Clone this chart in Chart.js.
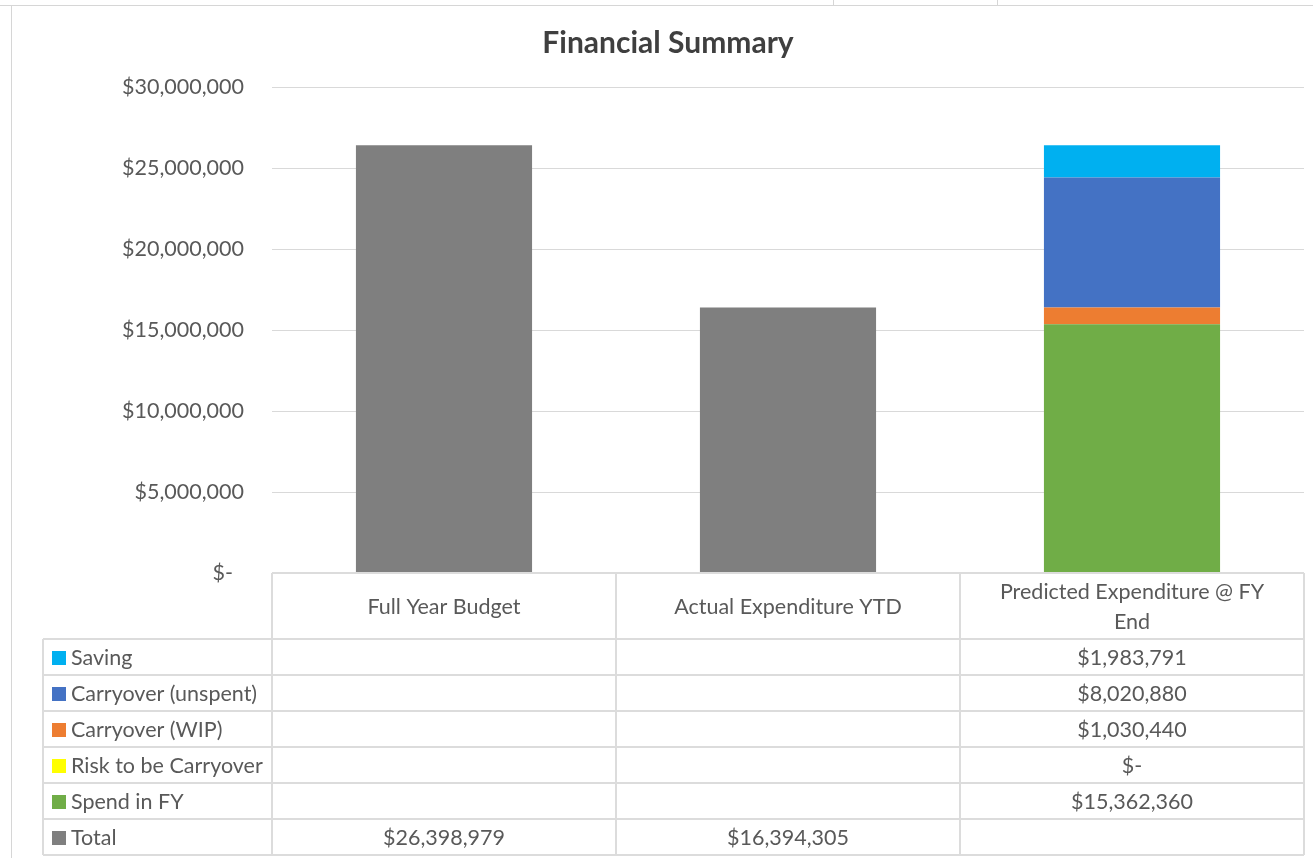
<!DOCTYPE html>
<html>
<head>
<meta charset="utf-8">
<title>Financial Summary</title>
<script src="https://cdn.jsdelivr.net/npm/chart.js@4.4.1/dist/chart.umd.min.js"></script>
<style>
  html, body { margin: 0; padding: 0; background: #ffffff; }
  body { width: 1313px; height: 858px; position: relative; overflow: hidden; }
  .sheet-line { position: absolute; background: #d6d6d6; }
  #chart { position: absolute; left: 0; top: 0; }
</style>
</head>
<body>
<!-- worksheet cell borders around the embedded chart -->
<div class="sheet-line" style="left:0; top:5px; width:1313px; height:1px;"></div>
<div class="sheet-line" style="left:833px; top:0; width:1px; height:5px;"></div>
<div class="sheet-line" style="left:997px; top:0; width:1px; height:5px;"></div>
<div class="sheet-line" style="left:11px; top:5px; width:1px; height:853px;"></div>
<canvas id="chart" width="1313" height="858"></canvas>
<script>
// Categories (multi-line entries are header cells that wrap)
const categories = ['Full Year Budget', 'Actual Expenditure YTD', ['Predicted Expenditure @ FY', 'End']];

// Series values, one per category (null = no value in that column)
const totalValues   = [26398979, 16394305, null];
const spendValues   = [null, null, 15362360];
const riskValues    = [null, null, 0];
const wipValues     = [null, null, 1030440];
const unspentValues = [null, null, 8020880];
const savingValues  = [null, null, 1983791];

// Value axis
const yMin = 0;
const yMax = 30000000;
const yStep = 5000000;

const FONT = 'Lato';
const TEXT = '#595959';
const GRID = '#d9d9d9';
const TABLE_LINE = '#dcdcdc';

function money(v) {
  if (v === null || v === undefined) return '';
  if (v === 0) return '$-';
  return '$' + Math.round(v).toLocaleString('en-US');
}

// Stack order: first dataset sits at the bottom of the column
const datasets = [
  { label: 'Total',               data: totalValues,   backgroundColor: '#7f7f7f' },
  { label: 'Spend in FY',         data: spendValues,   backgroundColor: '#70ad47' },
  { label: 'Risk to be Carryover',data: riskValues,    backgroundColor: '#ffff00' },
  { label: 'Carryover (WIP)',     data: wipValues,     backgroundColor: '#ed7d31' },
  { label: 'Carryover (unspent)', data: unspentValues, backgroundColor: '#4472c4' },
  { label: 'Saving',              data: savingValues,  backgroundColor: '#00b0f0' }
].map(d => Object.assign(d, {
  borderWidth: 0,
  barPercentage: 0.512,
  categoryPercentage: 1.0
}));

// Data table drawn under the plot, columns aligned with the category scale
const dataTablePlugin = {
  id: 'dataTable',
  afterDraw(chart) {
    const ctx = chart.ctx;
    const area = chart.chartArea;
    const x = chart.scales.x;
    const n = categories.length;
    const half = (x.getPixelForTick(1) - x.getPixelForTick(0)) / 2;
    const edges = [];
    for (let i = 0; i < n; i++) edges.push(x.getPixelForTick(i) - half);
    edges.push(x.getPixelForTick(n - 1) + half);

    const headerTop = area.bottom;
    const headerH = 66;
    const rowH = 36;
    const labelLeft = 43;
    const rows = datasets.slice().reverse();
    const tableBottom = headerTop + headerH + rows.length * rowH;

    ctx.save();
    ctx.strokeStyle = TABLE_LINE;
    ctx.lineWidth = 2;
    ctx.beginPath();
    // header top edge
    ctx.moveTo(edges[0], headerTop); ctx.lineTo(edges[n], headerTop);
    // row separators
    for (let r = 0; r <= rows.length; r++) {
      const yy = headerTop + headerH + r * rowH;
      ctx.moveTo(labelLeft, yy); ctx.lineTo(edges[n], yy);
    }
    // column separators
    edges.forEach(e => { ctx.moveTo(e, headerTop); ctx.lineTo(e, tableBottom); });
    ctx.moveTo(labelLeft, headerTop + headerH); ctx.lineTo(labelLeft, tableBottom);
    ctx.stroke();

    ctx.fillStyle = TEXT;
    ctx.font = '21.5px ' + FONT;
    ctx.textBaseline = 'middle';
    ctx.textAlign = 'center';

    // header cells
    categories.forEach((c, i) => {
      const cx = x.getPixelForTick(i);
      const lines = Array.isArray(c) ? c : [c];
      const lh = 30;
      const cy = headerTop + headerH / 2 + 1;
      lines.forEach((ln, k) => {
        ctx.fillText(ln, cx, cy + (k - (lines.length - 1) / 2) * lh);
      });
    });

    // series rows
    rows.forEach((ds, r) => {
      const cy = headerTop + headerH + r * rowH + rowH / 2 + 1;
      ctx.fillStyle = ds.backgroundColor;
      ctx.fillRect(52, cy - 7, 14, 14);
      ctx.fillStyle = TEXT;
      ctx.textAlign = 'left';
      ctx.fillText(ds.label, 71, cy);
      ctx.textAlign = 'center';
      ds.data.forEach((v, i) => {
        ctx.fillText(money(v), x.getPixelForTick(i), cy);
      });
    });
    ctx.restore();
  }
};

new Chart(document.getElementById('chart'), {
  type: 'bar',
  data: { labels: categories, datasets: datasets },
  plugins: [dataTablePlugin],
  options: {
    responsive: false,
    animation: false,
    layout: { padding: { left: 32, right: 9, top: 0, bottom: 285 } },
    plugins: {
      legend: { display: false },
      tooltip: { enabled: false },
      title: {
        display: true,
        text: 'Financial Summary',
        color: '#3f3f3f',
        font: { family: FONT, size: 30, weight: 'bold', lineHeight: 1.2 },
        padding: { top: 25, bottom: 26 }
      }
    },
    scales: {
      x: {
        stacked: true,
        display: false,
        offset: true
      },
      y: {
        stacked: true,
        min: yMin,
        max: yMax,
        afterFit(scale) { scale.width = 240; },
        border: { display: false },
        grid: { color: GRID, lineWidth: 1, drawTicks: false },
        ticks: {
          stepSize: yStep,
          padding: 28,
          color: TEXT,
          font: { family: FONT, size: 21.5 },
          callback: v => v === 0 ? '$-  ' : money(v)
        }
      }
    }
  }
});
</script>
</body>
</html>
